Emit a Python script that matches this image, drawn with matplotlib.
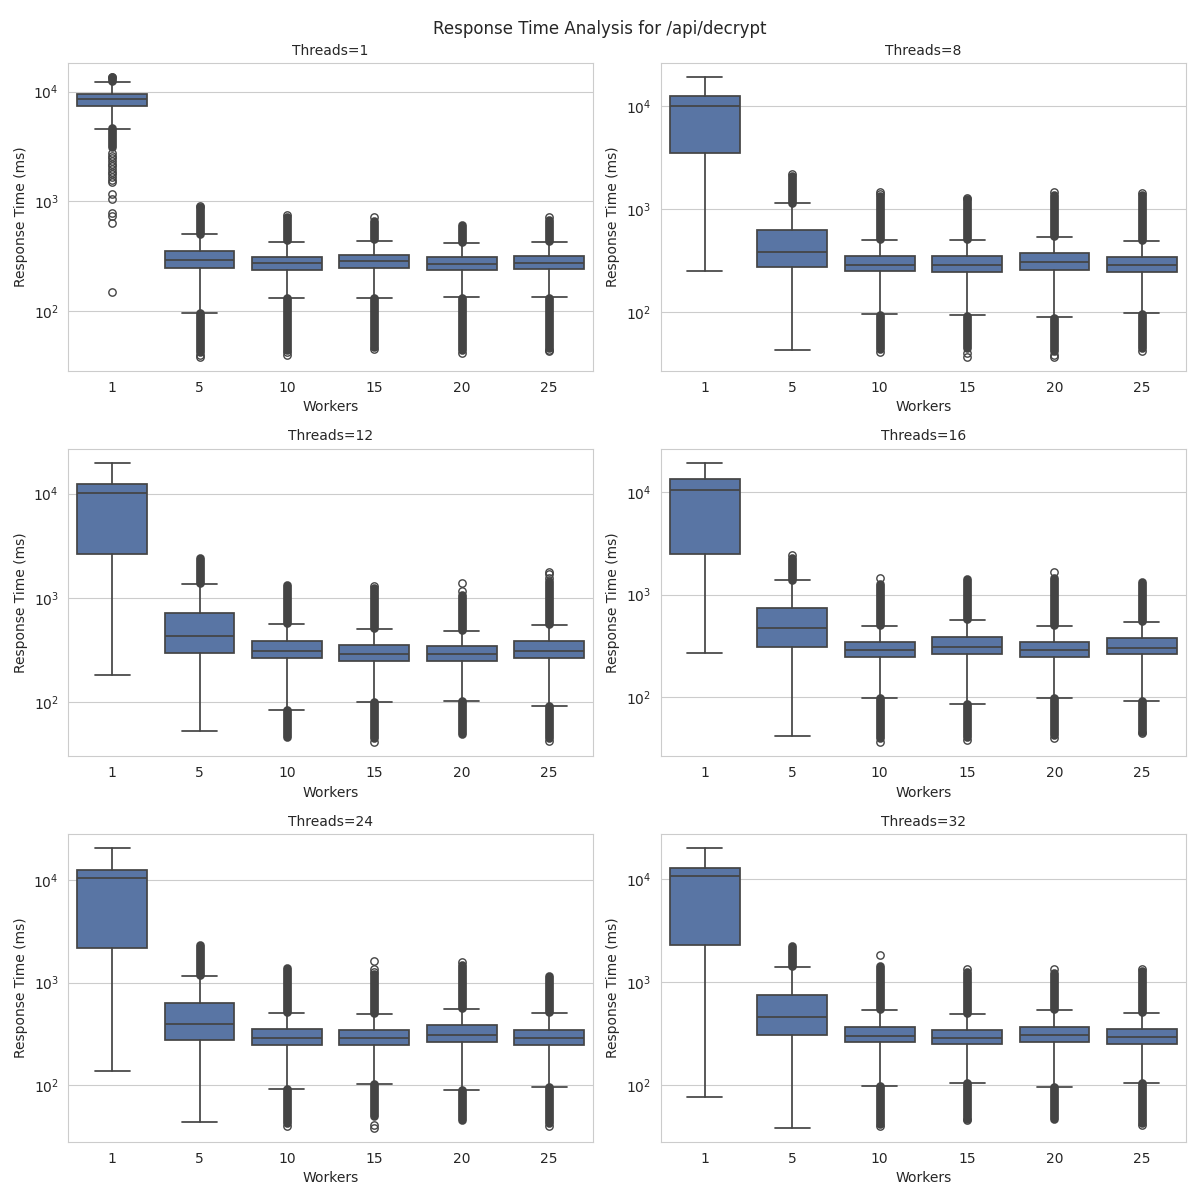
import matplotlib
matplotlib.use("Agg")
import matplotlib.pyplot as plt
import seaborn as sns

sns.set_style("whitegrid")

threads = [1, 8, 12, 16, 24, 32]
workers = [1, 5, 10, 15, 20, 25]

# box stats per thread count (rows) and worker count (columns), in ms
whislo = [
    [4530, 96, 132, 132, 134, 134],
    [252, 43, 96, 93.5, 90, 98],
    [183, 53, 84, 100, 102, 92],
    [269, 42, 98, 85.5, 98, 91],
    [138, 44, 92, 102, 89, 95.5],
    [76, 38, 98, 104, 96, 104],
]
q1 = [
    [7470, 248, 238, 245, 235, 240],
    [3500, 274, 250, 244, 256, 244],
    [2650, 294, 265, 246, 246, 265],
    [2500, 308, 246, 263, 246, 263],
    [2200, 276, 247, 247, 264, 247],
    [2270, 304, 261, 250, 261, 250],
]
med = [
    [8520, 291, 272, 285, 268, 272],
    [10000, 383, 286, 287, 307, 286],
    [10200, 431, 309, 290, 290, 309],
    [10500, 472, 288, 310, 288, 301],
    [10500, 391, 289, 289, 309, 289],
    [10700, 454, 299, 286, 305, 292],
]
q3 = [
    [9460, 349, 308, 322, 308, 315],
    [12600, 625, 350, 350, 374, 342],
    [12500, 718, 386, 353, 345, 386],
    [13500, 741, 345, 385, 345, 378],
    [12500, 636, 354, 346, 387, 346],
    [12800, 748, 366, 342, 366, 350],
]
whishi = [
    [12250, 501, 421, 435, 412, 421],
    [19200, 1143, 500, 500, 538, 489],
    [19900, 1365, 562, 507, 482, 550],
    [19400, 1390, 494, 565, 494, 541],
    [20600, 1170, 508, 497, 552, 508],
    [20000, 1400, 535, 489, 535, 500],
]

# ranges where the outlier circles overlap into a solid column (lo, hi)
bands = [
    [[(12500, 13500), (3100, 4700)], [(505, 880), (42, 95)], [(440, 720), (44, 130)],
     [(450, 660), (47, 130)], [(425, 610), (44, 130)], [(430, 680), (46, 130)]],
    [[], [(1150, 2100)], [(510, 1350), (44, 95)],
     [(510, 1250), (45, 93)], [(545, 1380), (42, 88)], [(500, 1380), (45, 97)]],
    [[], [(1380, 2400)], [(570, 1320), (46, 84)],
     [(515, 1250), (45, 100)], [(490, 1060), (49, 102)], [(560, 1450), (45, 92)]],
    [[], [(1400, 2280)], [(505, 1260), (40, 98)],
     [(575, 1430), (41, 85)], [(505, 1440), (43, 98)], [(550, 1330), (46, 91)]],
    [[], [(1190, 2350)], [(515, 1400), (43, 92)],
     [(505, 1225), (50, 102)], [(560, 1480), (46, 89)], [(515, 1150), (43, 95)]],
    [[], [(1420, 2250)], [(545, 1440), (42, 98)],
     [(500, 1250), (47, 104)], [(545, 1220), (47, 96)], [(510, 1280), (43, 104)]],
]

# separate outlier circles
fliers_t1 = [
    [13600, 2750, 2600, 2460, 2330, 2200, 2080, 1970, 1860, 1760, 1660, 1570,
     1500, 1170, 1040, 776, 733, 640, 149],
    [900, 40, 38],
    [750, 42, 40],
    [725, 45],
    [41],
    [713, 44, 43],
]
fliers_t8 = [
    [],
    [2200],
    [1420, 1480, 41],
    [1300, 40, 37],
    [1460, 39, 37],
    [1430, 42],
]
fliers_t12 = [
    [],
    [],
    [],
    [1300, 41],
    [1160, 1390],
    [1560, 1680, 1760, 42],
]
fliers_t16 = [
    [],
    [2440],
    [1455, 36],
    [38],
    [1665, 40],
    [45],
]
fliers_t24 = [
    [],
    [],
    [40],
    [1270, 1350, 1630, 41, 38],
    [1600],
    [40],
]
fliers_t32 = [
    [],
    [],
    [1830, 40],
    [1336, 45],
    [1336],
    [1330, 41],
]
fliers = [fliers_t1, fliers_t8, fliers_t12, fliers_t16, fliers_t24, fliers_t32]

box_color = sns.desaturate("#4c72b0", 0.75)
line_color = "#444444"

fig, axes = plt.subplots(3, 2, figsize=(12, 12), dpi=100)
fig.suptitle("Response Time Analysis for /api/decrypt", fontsize=12, y=0.983)

for i, ax in enumerate(axes.flat):
    stats = []
    for j in range(len(workers)):
        stats.append({
            "whislo": whislo[i][j], "q1": q1[i][j], "med": med[i][j],
            "q3": q3[i][j], "whishi": whishi[i][j], "fliers": fliers[i][j],
        })
    ax.bxp(stats, positions=range(len(workers)), widths=0.8, patch_artist=True,
           boxprops=dict(facecolor=box_color, edgecolor=line_color, linewidth=1.25),
           medianprops=dict(color=line_color, linewidth=1.25),
           whiskerprops=dict(color=line_color, linewidth=1.25),
           capprops=dict(color=line_color, linewidth=1.25),
           flierprops=dict(marker="o", markerfacecolor="none",
                           markeredgecolor=line_color, markersize=5.3,
                           markeredgewidth=1.0))
    # dense outlier columns
    for j, rng in enumerate(bands[i]):
        for lo, hi in rng:
            ax.plot([j, j], [lo, hi], color=line_color, linewidth=6.3,
                    solid_capstyle="round", zorder=2)
    ax.set_yscale("log")
    ax.set_xticks(range(len(workers)))
    ax.set_xticklabels([str(w) for w in workers])
    ax.set_xlim(-0.5, len(workers) - 0.5)
    ax.xaxis.grid(False)
    ax.set_title(f"Threads={threads[i]}", fontsize=10)
    ax.set_xlabel("Workers")
    ax.set_ylabel("Response Time (ms)")

plt.subplots_adjust(left=0.057, right=0.988, top=0.9475, bottom=0.0483,
                    wspace=0.13, hspace=0.252)
plt.savefig("out.png")
